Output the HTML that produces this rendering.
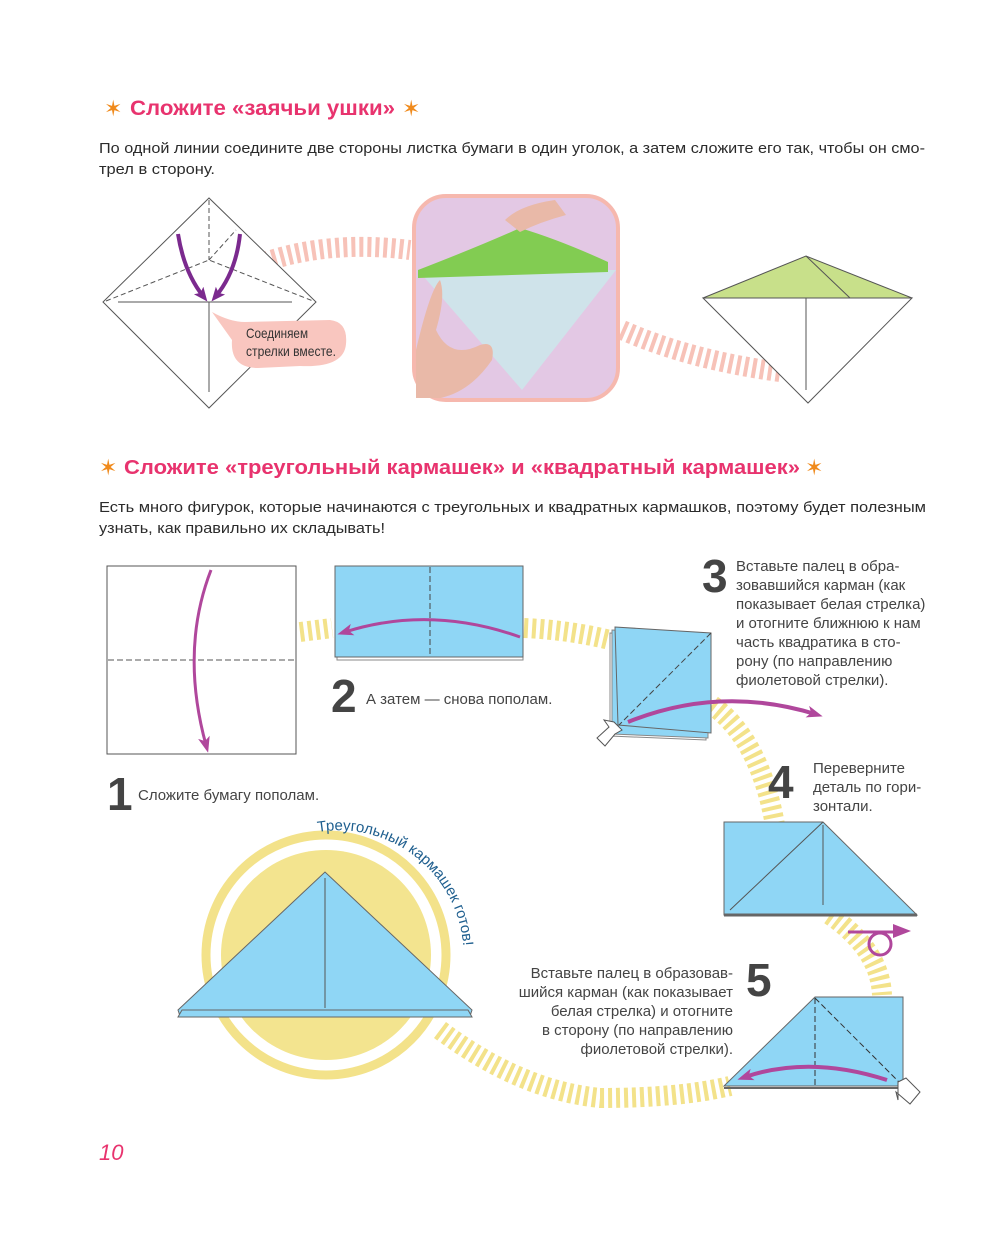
<!DOCTYPE html>
<html><head><meta charset="utf-8"><style>
html,body{margin:0;padding:0;background:#fff}
svg{display:block}
text{font-family:"Liberation Sans",sans-serif}
</style></head><body>
<svg width="1000" height="1237" viewBox="0 0 1000 1237" xmlns="http://www.w3.org/2000/svg">
<defs>
<marker id="mp" markerWidth="16" markerHeight="16" refX="8" refY="8" orient="auto" markerUnits="userSpaceOnUse"><path d="M0,2 L16,8 L0,14 L4,8z" fill="#b0479c"/></marker>
<marker id="mv" markerWidth="14" markerHeight="14" refX="7" refY="7" orient="auto" markerUnits="userSpaceOnUse"><path d="M0,1 L14,7 L0,13 L3,7z" fill="#7b2a8e"/></marker>
<path id="arcT" d="M318,832 A125,125 0 0 1 462,975"/>
</defs>

<!-- Title 1 -->
<text x="104" y="116" font-size="22" fill="#f08a1c">✶</text>
<text x="130" y="115" font-size="21" font-weight="bold" fill="#e8336e" textLength="265" lengthAdjust="spacingAndGlyphs">Сложите «заячьи ушки»</text>
<text x="402" y="116" font-size="22" fill="#f08a1c">✶</text>
<text x="99" y="153" font-size="15" fill="#2b2b2b" textLength="826" lengthAdjust="spacingAndGlyphs">По одной линии соедините две стороны листка бумаги в один уголок, а затем сложите его так, чтобы он смо-</text>
<text x="99" y="174" font-size="15" fill="#2b2b2b" textLength="116" lengthAdjust="spacingAndGlyphs">трел в сторону.</text>

<!-- pink stripe arcs -->
<path d="M265,262 Q330,240 410,250" stroke="#f7c2b8" stroke-width="20" fill="none" stroke-dasharray="4 4"/>
<path d="M622,330 Q690,360 780,372" stroke="#f7c2b8" stroke-width="20" fill="none" stroke-dasharray="4 4"/>

<!-- diagram 1 -->
<g stroke="#555" stroke-width="1" fill="none">
<path d="M209,198 L103,302 L209,408 L316,302 Z" fill="#fff"/>
<line x1="118" y1="302" x2="292" y2="302"/>
<line x1="209" y1="302" x2="209" y2="392"/>
<path d="M209,200 L209,260" stroke-dasharray="5 3"/>
<path d="M106,301 L209,260 L313,301" stroke-dasharray="5 3"/>
<path d="M209,260 L236,230" stroke-dasharray="5 3"/>
</g>
<path d="M178,234 Q184,272 203,296" stroke="#7b2a8e" stroke-width="4" fill="none" marker-end="url(#mv)"/>
<path d="M240,234 Q236,272 216,296" stroke="#7b2a8e" stroke-width="4" fill="none" marker-end="url(#mv)"/>
<path d="M212,312 Q230,322 245,322 L330,320 Q348,322 346,344 Q344,368 300,366 L258,368 Q230,368 232,340 Z" fill="#f9c6bf"/>
<text x="246" y="338" font-size="14" fill="#333" textLength="62" lengthAdjust="spacingAndGlyphs">Соединяем</text>
<text x="246" y="356" font-size="14" fill="#333" textLength="90" lengthAdjust="spacingAndGlyphs">стрелки вместе.</text>

<!-- photo -->
<rect x="414" y="196" width="204" height="204" rx="32" fill="#e3c8e4" stroke="#f6b8ae" stroke-width="4"/>
<path d="M418,270 L616,270 L522,390 Z" fill="#cfe3ea"/>
<path d="M418,270 Q480,246 520,228 Q560,240 608,262 L608,272 L418,278 Z" fill="#82cc52"/>
<path d="M416,350 Q430,290 440,280 Q446,296 436,330 Q450,360 480,345 Q496,340 492,360 Q470,392 440,398 L416,398Z" fill="#e9b9a8"/>
<path d="M505,220 Q520,205 555,200 L566,215 Q540,222 520,232 Z" fill="#e9b9a8"/>

<!-- diagram 3 -->
<g stroke="#555" stroke-width="1">
<path d="M703,298 L808,403 L912,298 Z" fill="#fff"/>
<path d="M703,298 L806,256 L912,298 Z" fill="#c8e08a"/>
<path d="M806,256 L850,298" fill="none"/>
<line x1="806" y1="298" x2="806" y2="390"/>
</g>

<!-- Title 2 -->
<text x="99" y="475" font-size="22" fill="#f08a1c">✶</text>
<text x="124" y="474" font-size="20" font-weight="bold" fill="#e8336e" textLength="676" lengthAdjust="spacingAndGlyphs">Сложите «треугольный кармашек» и «квадратный кармашек»</text>
<text x="805" y="475" font-size="22" fill="#f08a1c">✶</text>
<text x="99" y="512" font-size="15" fill="#2b2b2b" textLength="827" lengthAdjust="spacingAndGlyphs">Есть много фигурок, которые начинаются с треугольных и квадратных кармашков, поэтому будет полезным</text>
<text x="99" y="533" font-size="15" fill="#2b2b2b" textLength="286" lengthAdjust="spacingAndGlyphs">узнать, как правильно их складывать!</text>

<!-- yellow stripe paths -->
<g stroke="#f3e28a" stroke-width="20" fill="none" stroke-dasharray="4 4">
<path d="M300,632 L332,628"/>
<path d="M524,628 Q570,630 610,640"/>
<path d="M712,705 Q760,740 775,825"/>
<path d="M830,915 Q880,950 882,995"/>
<path d="M882,1000 Q880,1040 870,1060"/>
<path d="M440,1030 Q520,1090 600,1098 Q680,1098 730,1086"/>
</g>

<!-- final circle -->
<circle cx="326" cy="955" r="120" fill="none" stroke="#f3e28a" stroke-width="9"/>
<circle cx="326" cy="955" r="105" fill="#f3e48f"/>
<path d="M178,1010 L325,872 L472,1010 L470,1016 L180,1016Z" fill="#8fd6f5" stroke="#666" stroke-width="1"/>
<path d="M178,1017 L472,1017 L468,1010 L182,1010Z" fill="#8fd6f5" stroke="#666" stroke-width="1"/>
<line x1="325" y1="878" x2="325" y2="1008" stroke="#555"/>
<text font-size="15" fill="#1f5f8f"><textPath href="#arcT">Треугольный кармашек готов!</textPath></text>

<!-- step 1 -->
<rect x="107" y="566" width="189" height="188" fill="#fff" stroke="#555"/>
<line x1="108" y1="660" x2="295" y2="660" stroke="#555" stroke-dasharray="6 3"/>
<path d="M211,570 Q180,650 206,745" stroke="#b0479c" stroke-width="3" fill="none" marker-end="url(#mp)"/>
<text x="107" y="810" font-size="46" font-weight="bold" fill="#444">1</text>
<text x="138" y="800" font-size="15" fill="#444">Сложите бумагу пополам.</text>

<!-- step 2 -->
<rect x="337" y="570" width="186" height="90" fill="#fff" stroke="#888"/>
<rect x="335" y="566" width="188" height="91" fill="#8fd6f5" stroke="#666"/>
<line x1="430" y1="567" x2="430" y2="656" stroke="#444" stroke-dasharray="6 3"/>
<path d="M520,637 Q430,605 345,632" stroke="#b0479c" stroke-width="3" fill="none" marker-end="url(#mp)"/>
<text x="331" y="712" font-size="46" font-weight="bold" fill="#444">2</text>
<text x="366" y="704" font-size="15" fill="#444">А затем — снова пополам.</text>

<!-- step 3 -->
<path d="M610,633 L706,634 L706,740 L610,736Z" fill="#fff" stroke="#888"/>
<path d="M612,630 L708,634 L708,738 L612,734Z" fill="#8fd6f5" stroke="#888"/>
<path d="M615,627 L711,633 L711,733 L618,725Z" fill="#8fd6f5" stroke="#666"/>
<line x1="711" y1="633" x2="619" y2="725" stroke="#444" stroke-dasharray="6 3"/>
<path d="M628,722 Q720,685 815,714" stroke="#b0479c" stroke-width="4" fill="none" marker-end="url(#mp)"/>
<path d="M614,722 L622,730 L615,734 L605,746 L597,738 L609,727 L604,720Z" fill="#fff" stroke="#555"/>
<text x="702" y="592" font-size="46" font-weight="bold" fill="#444">3</text>
<g font-size="15" fill="#444">
<text x="736" y="571">Вставьте палец в обра-</text>
<text x="736" y="590">зовавшийся карман (как</text>
<text x="736" y="609">показывает белая стрелка)</text>
<text x="736" y="628">и отогните ближнюю к нам</text>
<text x="736" y="647">часть квадратика в сто-</text>
<text x="736" y="666">рону (по направлению</text>
<text x="736" y="685">фиолетовой стрелки).</text>
</g>

<!-- step 4 -->
<path d="M724,822 L823,822 L917,915 L724,915Z" fill="#8fd6f5" stroke="#666"/>
<line x1="724" y1="915" x2="917" y2="915" stroke="#666" stroke-width="3"/>
<line x1="823" y1="822" x2="730" y2="910" stroke="#555"/>
<line x1="823" y1="825" x2="823" y2="905" stroke="#555"/>
<text x="768" y="798" font-size="46" font-weight="bold" fill="#444">4</text>
<g font-size="15" fill="#444">
<text x="813" y="773">Переверните</text>
<text x="813" y="792">деталь по гори-</text>
<text x="813" y="811">зонтали.</text>
</g>
<line x1="848" y1="932" x2="900" y2="932" stroke="#b0479c" stroke-width="3"/>
<path d="M893,924 L911,931 L893,938Z" fill="#b0479c"/>
<circle cx="880" cy="944" r="11" fill="none" stroke="#b0479c" stroke-width="3"/>

<!-- step 5 -->
<path d="M815,997 L903,997 L903,1086 L724,1086Z" fill="#8fd6f5" stroke="#666"/>
<line x1="724" y1="1088" x2="900" y2="1088" stroke="#666" stroke-width="2"/>
<line x1="815" y1="998" x2="815" y2="1085" stroke="#333" stroke-dasharray="6 3"/>
<line x1="815" y1="998" x2="902" y2="1085" stroke="#333" stroke-dasharray="6 3"/>
<path d="M887,1080 Q810,1055 745,1077" stroke="#b0479c" stroke-width="4" fill="none" marker-end="url(#mp)"/>
<path d="M898,1082 L906,1078 L920,1092 L910,1104 L896,1092 L898,1100 Z" fill="#fff" stroke="#555"/>
<text x="746" y="996" font-size="46" font-weight="bold" fill="#444">5</text>
<g font-size="15" fill="#444" text-anchor="end">
<text x="733" y="978">Вставьте палец в образовав-</text>
<text x="733" y="997">шийся карман (как показывает</text>
<text x="733" y="1016">белая стрелка) и отогните</text>
<text x="733" y="1035">в сторону (по направлению</text>
<text x="733" y="1054">фиолетовой стрелки).</text>
</g>

<text x="99" y="1160" font-size="22" fill="#e8336e" font-style="italic">10</text>
</svg>
</body></html>
